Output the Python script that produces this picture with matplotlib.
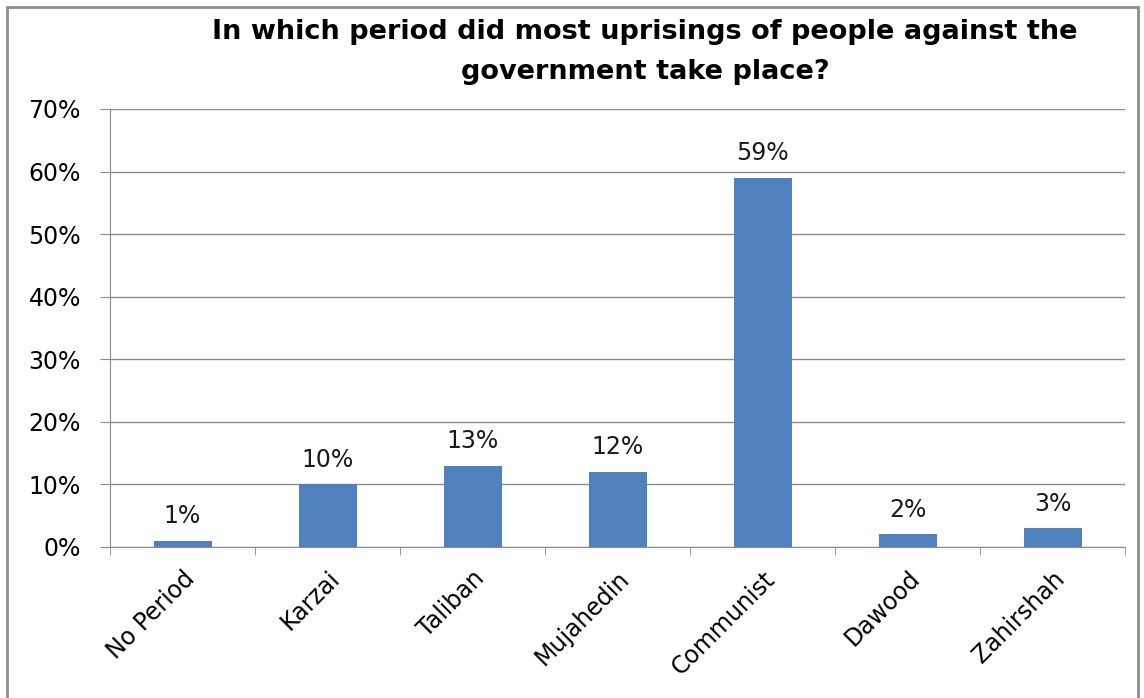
import matplotlib.pyplot as plt
from matplotlib.patches import Rectangle
from matplotlib.ticker import PercentFormatter, FixedLocator

periods = ['No Period', 'Karzai', 'Taliban', 'Mujahedin', 'Communist', 'Dawood', 'Zahirshah']
shares = [1, 10, 13, 12, 59, 2, 3]
y_ticks = [0, 10, 20, 30, 40, 50, 60, 70]

plt.rcParams['font.family'] = 'DejaVu Sans'

fig = plt.figure(figsize=(11.44, 6.98), dpi=100)
ax = fig.add_axes((110 / 1144, 1 - 547 / 698, 1015 / 1144, 438 / 698))

# outer chart frame
fig.patches.append(Rectangle((7 / 1144, -0.02), 1131 / 1144, 1 - 7 / 698 + 0.02,
                             transform=fig.transFigure, fill=False,
                             edgecolor='#8c8c8c', linewidth=2))

x = range(len(periods))
bars = ax.bar(x, shares, width=0.4, color='#4F81BD', zorder=3)
for xi, v in zip(x, shares):
    ax.text(xi, v + 2.0, f'{v}%', ha='center', va='bottom', fontsize=17, color='#1a1a1a')

ax.set_xlim(-0.5, len(periods) - 0.5)
ax.set_ylim(0, 70)
ax.set_yticks(y_ticks)
ax.yaxis.set_major_formatter(PercentFormatter(decimals=0))
ax.grid(axis='y', color='#8c8c8c', linewidth=1, zorder=0)

ax.set_xticks(list(x))
ax.set_xticklabels(periods, rotation=45, ha='right', rotation_mode='anchor', fontsize=17)
ax.xaxis.set_minor_locator(FixedLocator([i - 0.5 for i in range(len(periods) + 1)]))
ax.tick_params(axis='x', which='major', length=0, pad=14)
ax.tick_params(axis='x', which='minor', length=6, color='#8c8c8c')
ax.tick_params(axis='y', length=7, color='#8c8c8c', labelsize=17, pad=14)

for side in ['top', 'right']:
    ax.spines[side].set_visible(False)
for side in ['left', 'bottom']:
    ax.spines[side].set_color('#8c8c8c')

fig.text(645 / 1144, 1 - 32 / 698, 'In which period did most uprisings of people against the',
         ha='center', va='center', fontsize=19.5, fontweight='bold')
fig.text(645 / 1144, 1 - 72 / 698, 'government take place?',
         ha='center', va='center', fontsize=19.5, fontweight='bold')

fig.savefig('out.png', dpi=100)
